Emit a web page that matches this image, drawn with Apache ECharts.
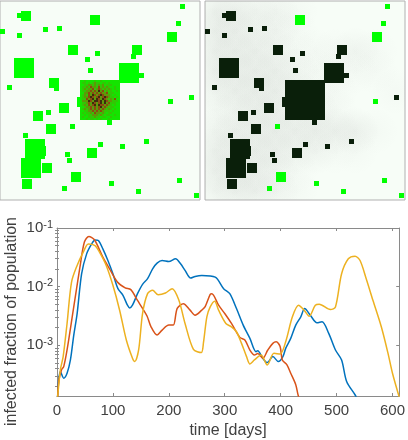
<!DOCTYPE html>
<html>
<head>
<meta charset="utf-8">
<style>
  html, body { margin: 0; padding: 0; background: #fff; }
  #chart { width: 408px; height: 440px; }
</style>
<script src="https://cdn.jsdelivr.net/npm/echarts@6/dist/echarts.min.js"></script>
</head>
<body>
<div id="chart"></div>
<script>
// cities: x, y, size (image pixels), gone = 1 if already hit in the right map
const cities = [
  [77,97,10,1],[36,146,10,1],[21,11,10,1],[17,13,5,1],
  [180,4,5,0],[176,21,5,0],[167,32,10,0],[90,15,10,0],[0,29,5,1],[17,33,5,1],[43,27,5,1],[57,26,5,1],
  [68,45,10,1],[132,45,10,1],[131,54,5,1],[95,51,5,1],[85,57,5,1],[14,58,20,1],[88,68,5,1],
  [119,63,20,1],[139,73,5,1],[80,80,40,1],[49,78,10,1],[54,86,5,1],[7,85,5,1],[189,95,5,1],
  [168,99,5,0],[59,103,10,1],[46,110,5,1],[33,111,10,1],[107,120,5,1],[70,124,5,0],[46,124,10,1],
  [23,133,5,1],[25,139,20,1],[98,142,5,1],[120,144,5,1],[144,139,5,1],[65,152,5,1],[87,148,10,1],
  [67,158,5,1],[21,158,20,1],[42,163,10,1],[71,172,10,0],[22,179,10,1],[109,181,5,0],[177,178,5,0],
  [62,186,5,0],[136,189,5,0],[194,193,5,0]
];

// state inside the big city of the left map, estimated per 2px cell
// 0 healthy .. 3 infected, 4 recovered
const core = [
  '00100001001000000000',
  '01101012110110100000',
  '00112212121201110000',
  '01121322131212100100',
  '01212231232121210100',
  '01122323242312110010',
  '00223232323223111000',
  '01213243234322210100',
  '01223432342343211010',
  '01132342432432121300',
  '02224324434243221110',
  '01123243234242311100',
  '01213234243323210100',
  '00122323234232111000',
  '01212323232321210100',
  '00112232323211101000',
  '01011213221210110000',
  '00101122212101100100',
  '01001112110110010000',
  '00010110101000100000'
];
const corePalette = ['#14e400','#30c804','#5c9a08','#8a4c10','#3e2c0c'];

// how grey the background of the right map looks, per 20px cell
const haze = [
  [3,3,2,2,1,0,0,0,0,0],
  [3,3,2,2,1,0,0,0,0,0],
  [3,3,3,2,1,1,1,2,1,0],
  [3,3,3,3,2,1,1,1,1,0],
  [2,3,3,3,2,1,1,0,0,1],
  [1,2,3,3,2,2,1,0,0,0],
  [2,3,3,3,3,3,3,3,1,0],
  [3,3,3,3,2,2,1,1,0,0],
  [3,3,3,2,1,0,0,0,0,0],
  [2,3,3,2,1,0,0,0,0,0]
];

// curves: day and log10 of infected fraction
const blueDays = [1,3,6,12,18,24,30,36,44,53,62,68,74,82,91,100,109,118,126,130,135,144,153,162,171,179,188,200,212,221,229,239,247,259,283,298,309,321,333,345,356,359,368,376,386,396,404,409,418,427,436,443,453,465,474,486,498,509,518,533,536];
const blueLog = [-3.9,-3.588,-3.446,-3.559,-3.475,-3.249,-2.825,-2.458,-1.78,-1.441,-1.271,-1.203,-1.215,-1.356,-1.554,-1.78,-2.034,-2.147,-2.316,-2.362,-2.316,-2.119,-1.96,-1.864,-1.695,-1.599,-1.554,-1.571,-1.525,-1.61,-1.723,-1.853,-1.825,-1.808,-1.836,-2.034,-2.119,-2.373,-2.655,-2.881,-3.107,-3.09,-3.22,-3.294,-3.192,-3.277,-3.192,-3.051,-2.881,-2.655,-2.514,-2.373,-2.486,-2.616,-2.599,-2.797,-3.079,-3.249,-3.616,-3.842,-3.9];

const redDays = [1,3.5,8,12,18,29,41,49,57,67,82,94,108,122,132,144,153,161,168,179,188,200,208,215,226,238,247,259,265,274,277,289,300,312,327,336,345,353,359,368,377,386,392,399,403,411,418,427,431,433];
const redLog = [-3.9,-3.588,-3.418,-3.362,-3.079,-2.405,-1.668,-1.24,-1.145,-1.2,-1.497,-1.695,-1.92,-2.02,-2.05,-2.235,-2.37,-2.5,-2.68,-2.825,-2.74,-2.655,-2.655,-2.37,-2.29,-2.4,-2.486,-2.4,-2.34,-2.13,-2.12,-2.316,-2.458,-2.627,-2.864,-2.91,-3.08,-3.164,-3.14,-3.22,-3.08,-2.966,-2.94,-3.02,-3.25,-3.33,-3.475,-3.67,-3.84,-3.9];

const yellowDays = [1,6,11,18,26,36,47,56,68,76,88,100,112,124,135,139,146,153,162,171,181,194,206,218,229,244,258,262,268,274,282,289,302,312,321,330,339,345,353,365,376,388,399,409,421,432,442,451,462,469,489,498,509,521,533,542,553,565,580,592,600,612];
const yellowLog = [-3.9,-3.418,-3.192,-2.627,-1.921,-1.638,-1.412,-1.271,-1.299,-1.412,-1.638,-1.977,-2.401,-2.91,-3.22,-3.277,-3.079,-2.458,-2.119,-2.062,-2.136,-2.107,-2.034,-2.232,-2.627,-3.068,-3.124,-2.95,-2.514,-2.345,-2.249,-2.401,-2.627,-2.684,-2.768,-2.966,-3.192,-3.316,-3.249,-3.164,-3.333,-3.136,-3.147,-2.938,-2.514,-2.316,-2.401,-2.503,-2.316,-2.299,-2.39,-2.345,-1.78,-1.525,-1.48,-1.554,-1.864,-2.232,-2.684,-3.136,-3.475,-3.88];

const xTicks = [0,100,200,300,400,500,600];
const yTicks = [0.1,0.01,0.001];
const yMinorTicks = [0.09,0.08,0.07,0.06,0.05,0.04,0.03,0.02,0.009,0.008,0.007,0.006,0.005,0.004,0.003,0.002,0.0009,0.0008,0.0007,0.0006,0.0005,0.0004,0.0003,0.0002];

const curve = (days, logs) => days.map((d, i) => [d, Math.pow(10, logs[i])]);

// rectangle given in data units of the panel, so it goes through the axes
function rectItem(api, x, y, w, h, fill) {
  const a = api.coord([x, y]);
  const b = api.coord([x + w, y + h]);
  return { type: 'rect', shape: { x: a[0], y: a[1], width: b[0] - a[0], height: b[1] - a[1] }, style: { fill: fill } };
}

function matrixData(m) {
  const out = [];
  m.forEach((row, r) => Array.from(row).forEach((v, c) => out.push([c, r, Number(v)])));
  return out;
}

const axisColor = '#8a8a8a';
const textColor = '#404040';
const fontName = '"Liberation Sans", Arial, sans-serif';

const panelAxis = (idx, inv) => ({ gridIndex: idx, type: 'value', show: false, min: inv ? 1 : 0, max: 200, inverse: inv });
const lineColor = { lineStyle: { color: axisColor, width: 1 } };

const chart = echarts.init(document.getElementById('chart'), null, { renderer: 'canvas' });
chart.setOption({
  animation: false,
  backgroundColor: '#fff',
  textStyle: { fontFamily: fontName },
  grid: [
    { left: 0, top: 1, width: 200, height: 199, show: true, backgroundColor: '#f7fdf7', borderColor: '#b0b0b0', borderWidth: 1 },
    { left: 205, top: 1, width: 200, height: 199, show: true, backgroundColor: '#f7fdf7', borderColor: '#b0b0b0', borderWidth: 1 },
    { left: 57, top: 228, right: 4, height: 168 }
  ],
  xAxis: [
    panelAxis(0, false),
    panelAxis(1, false),
    {
      gridIndex: 2, type: 'value', min: 0, max: 612, position: 'bottom',
      axisLine: { onZero: false, ...lineColor },
      axisTick: { inside: true, length: 3, customValues: xTicks, ...lineColor },
      axisLabel: { customValues: xTicks, color: textColor, fontSize: 15, margin: 7, showMaxLabel: true },
      splitLine: { show: false },
      name: 'time [days]', nameLocation: 'middle', nameGap: 27,
      nameTextStyle: { color: textColor, fontSize: 16 }
    },
    {
      gridIndex: 2, type: 'value', min: 0, max: 612, position: 'top',
      axisLine: { onZero: false, ...lineColor },
      axisTick: { inside: true, length: 3, customValues: xTicks, ...lineColor },
      axisLabel: { show: false },
      splitLine: { show: false }
    }
  ],
  yAxis: [
    panelAxis(0, true),
    panelAxis(1, true),
    {
      gridIndex: 2, type: 'log', logBase: 10, min: 1.37e-4, max: 0.1, position: 'left',
      axisLine: { onZero: false, ...lineColor },
      axisTick: { inside: true, length: 3, customValues: yTicks, ...lineColor },
      axisLabel: {
        customValues: yTicks, margin: 4, color: textColor,
        formatter: v => '{b|10}{s|' + Math.round(Math.log10(v)) + '}',
        rich: {
          b: { fontSize: 15, color: textColor, fontFamily: fontName },
          s: { fontSize: 11, color: textColor, fontFamily: fontName, padding: [0, 0, 7, 0] }
        }
      },
      splitLine: { show: false }
    },
    {
      gridIndex: 2, type: 'log', logBase: 10, min: 1.37e-4, max: 0.1, position: 'right',
      axisLine: { onZero: false, ...lineColor },
      axisTick: { inside: true, length: 3, customValues: yTicks, ...lineColor },
      axisLabel: { show: false },
      splitLine: { show: false }
    },
    {
      gridIndex: 2, type: 'log', logBase: 10, min: 1.37e-4, max: 0.1, position: 'left',
      axisLine: { show: false },
      axisTick: { inside: true, length: 2, customValues: yMinorTicks, ...lineColor },
      axisLabel: { show: false },
      splitLine: { show: false }
    },
    {
      gridIndex: 2, type: 'log', logBase: 10, min: 1.37e-4, max: 0.1, position: 'right',
      axisLine: { show: false },
      axisTick: { inside: true, length: 2, customValues: yMinorTicks, ...lineColor },
      axisLabel: { show: false },
      splitLine: { show: false }
    }
  ],
  series: [
    {
      type: 'custom', xAxisIndex: 1, yAxisIndex: 1, silent: true, z: 1,
      data: matrixData(haze.map(r => r.join(''))),
      // soft blobs, so the 20px cells don't show
      renderItem: (params, api) => {
        const c = api.coord([api.value(0) * 20 + 10, api.value(1) * 20 + 11]);
        const a = api.value(2) * 0.025;
        return {
          type: 'circle',
          shape: { cx: c[0], cy: c[1], r: 24 },
          style: {
            fill: new echarts.graphic.RadialGradient(0.5, 0.5, 0.5, [
              { offset: 0, color: 'rgba(100,100,100,' + a + ')' },
              { offset: 1, color: 'rgba(100,100,100,0)' }
            ])
          }
        };
      },
      clip: true
    },
    {
      type: 'custom', xAxisIndex: 0, yAxisIndex: 0, silent: true, z: 2,
      data: cities,
      renderItem: (params, api) => rectItem(api, api.value(0), api.value(1), api.value(2), api.value(2), '#00ff00'),
      clip: true
    },
    {
      type: 'custom', xAxisIndex: 0, yAxisIndex: 0, silent: true, z: 3,
      data: matrixData(core),
      renderItem: (params, api) => rectItem(api, 80 + api.value(0) * 2, 80 + api.value(1) * 2, 2, 2, corePalette[api.value(2)]),
      clip: true
    },
    {
      type: 'custom', xAxisIndex: 1, yAxisIndex: 1, silent: true, z: 2,
      data: cities,
      renderItem: (params, api) => rectItem(api, api.value(0), api.value(1), api.value(2), api.value(2), api.value(3) ? '#0a1f0a' : '#00ff00'),
      clip: true
    },
    { type: 'line', xAxisIndex: 2, yAxisIndex: 2, data: curve(blueDays, blueLog), showSymbol: false, smooth: 0.3, clip: true, z: 5, lineStyle: { color: '#0072bd', width: 1.5 } },
    { type: 'line', xAxisIndex: 2, yAxisIndex: 2, data: curve(redDays, redLog), showSymbol: false, smooth: 0.3, clip: true, z: 6, lineStyle: { color: '#d95319', width: 1.5 } },
    { type: 'line', xAxisIndex: 2, yAxisIndex: 2, data: curve(yellowDays, yellowLog), showSymbol: false, smooth: 0.3, clip: true, z: 7, lineStyle: { color: '#edb120', width: 1.5 } }
  ],
  graphic: [
    {
      type: 'text', left: 4, top: 217, rotation: Math.PI / 2,
      style: { text: 'infected fraction of population', fontSize: 16, fontFamily: fontName, fill: textColor }
    }
  ]
});
</script>
</body>
</html>
